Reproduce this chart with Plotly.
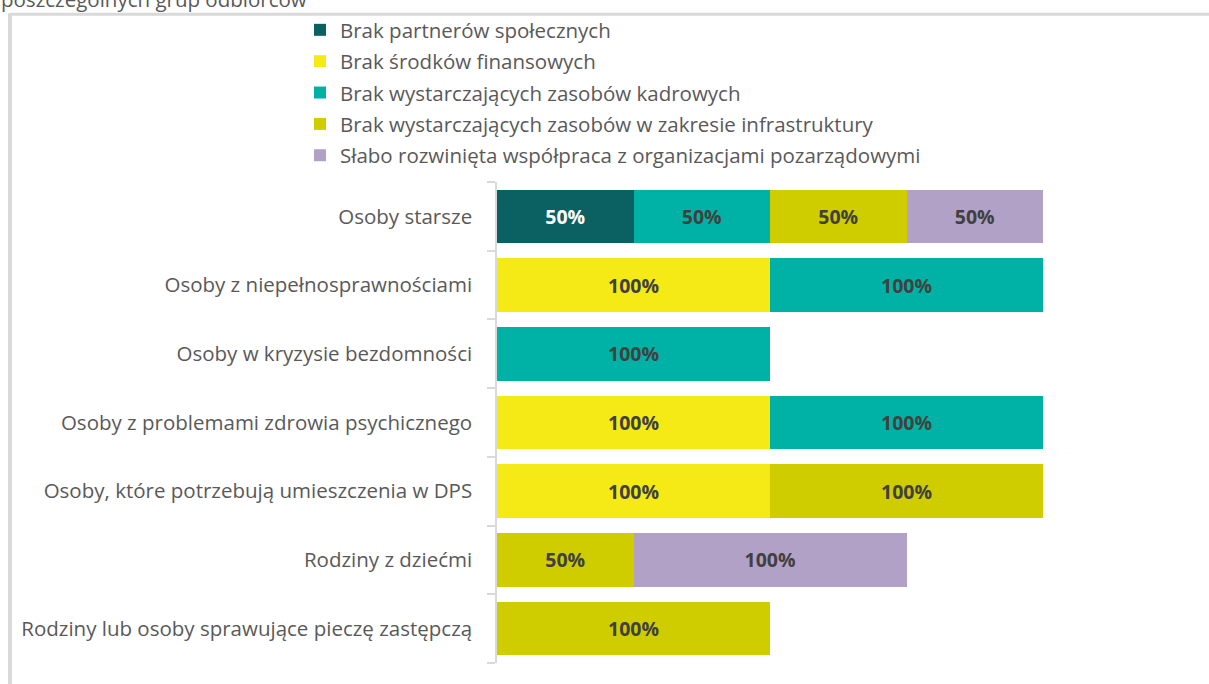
import plotly.graph_objects as go

# Target groups (top to bottom) and reported barriers (share of answers, %)
groups = [
    "Osoby starsze",
    "Osoby z niepełnosprawnościami",
    "Osoby w kryzysie bezdomności",
    "Osoby z problemami zdrowia psychicznego",
    "Osoby, które potrzebują umieszczenia w DPS",
    "Rodziny z dziećmi",
    "Rodziny lub osoby sprawujące pieczę zastępczą",
]

series_names = [
    "Brak partnerów społecznych",
    "Brak środków finansowych",
    "Brak wystarczających zasobów kadrowych",
    "Brak wystarczających zasobów w zakresie infrastruktury",
    "Słabo rozwinięta współpraca z organizacjami pozarządowymi",
]

partnerzy = [50, None, None, None, None, None, None]
srodki = [None, 100, None, 100, 100, None, None]
kadry = [50, 100, 100, 100, None, None, None]
infrastruktura = [50, None, None, None, 100, 50, 100]
wspolpraca = [50, None, None, None, None, 100, None]

series_values = [partnerzy, srodki, kadry, infrastruktura, wspolpraca]
colors = ["#0B6161", "#F5E916", "#00B2A5", "#CFCC00", "#B2A1C7"]
label_colors = ["#FFFFFF", "#404040", "#404040", "#404040", "#404040"]

FONT = "Open Sans"
TXT = 20.5
W, H = 1209, 684
L, R, T, B = 497, 166, 181, 21
pw, ph = W - L - R, H - T - B


def px_x(x):
    return (x - L) / pw


def px_y(y):
    return (H - B - y) / ph


fig = go.Figure()
for i, (name, vals, col, lcol) in enumerate(zip(series_names, series_values, colors, label_colors)):
    fig.add_trace(go.Bar(
        name=name,
        legendgroup=f"g{i}",
        y=groups,
        x=vals,
        orientation="h",
        marker=dict(color=col, line=dict(width=0)),
        text=[f"{v}%" if v is not None else "" for v in vals],
        textposition="inside",
        insidetextanchor="middle",
        textfont=dict(family=FONT, size=19.5, color=lcol, weight="bold"),
        hoverinfo="skip",
    ))

fig.update_layout(
    width=W,
    height=H,
    barmode="stack",
    bargap=0.22,
    margin=dict(l=L, r=R, t=T, b=B, pad=0),
    paper_bgcolor="white",
    plot_bgcolor="white",
    font=dict(family=FONT, size=TXT, color="#595959"),
    uniformtext=dict(minsize=8, mode="show"),
    legend=dict(
        orientation="v",
        x=px_x(300),
        y=px_y(10),
        xanchor="left",
        yanchor="top",
        font=dict(family=FONT, size=TXT, color="#595959"),
        traceorder="grouped",
        tracegroupgap=1.7,
        itemclick=False,
        bgcolor="rgba(0,0,0,0)",
    ),
    xaxis=dict(
        range=[0, 200],
        visible=False,
        showgrid=False,
        zeroline=False,
    ),
    yaxis=dict(
        categoryorder="array",
        categoryarray=groups[::-1],
        showline=True,
        linecolor="#D9D9D9",
        linewidth=1.5,
        ticks="outside",
        tickson="boundaries",
        ticklen=8,
        tickcolor="#D9D9D9",
        tickwidth=1.5,
        ticklabelstandoff=19,
        showgrid=False,
        zeroline=False,
        tickfont=dict(family=FONT, size=TXT, color="#595959"),
    ),
    shapes=[
        dict(type="line", xref="paper", yref="paper",
             x0=px_x(10), x1=px_x(1215), y0=px_y(13), y1=px_y(13),
             line=dict(color="#D9D9D9", width=3)),
        dict(type="line", xref="paper", yref="paper",
             x0=px_x(10), x1=px_x(10), y0=px_y(12), y1=px_y(690),
             line=dict(color="#D9D9D9", width=4)),
    ],
    annotations=[
        dict(text="poszczególnych grup odbiorców", xref="paper", yref="paper",
             x=px_x(-1), y=px_y(-2), xanchor="left", yanchor="middle",
             showarrow=False, font=dict(family=FONT, size=TXT, color="#595959")),
    ],
)

fig.write_html("out.html")
